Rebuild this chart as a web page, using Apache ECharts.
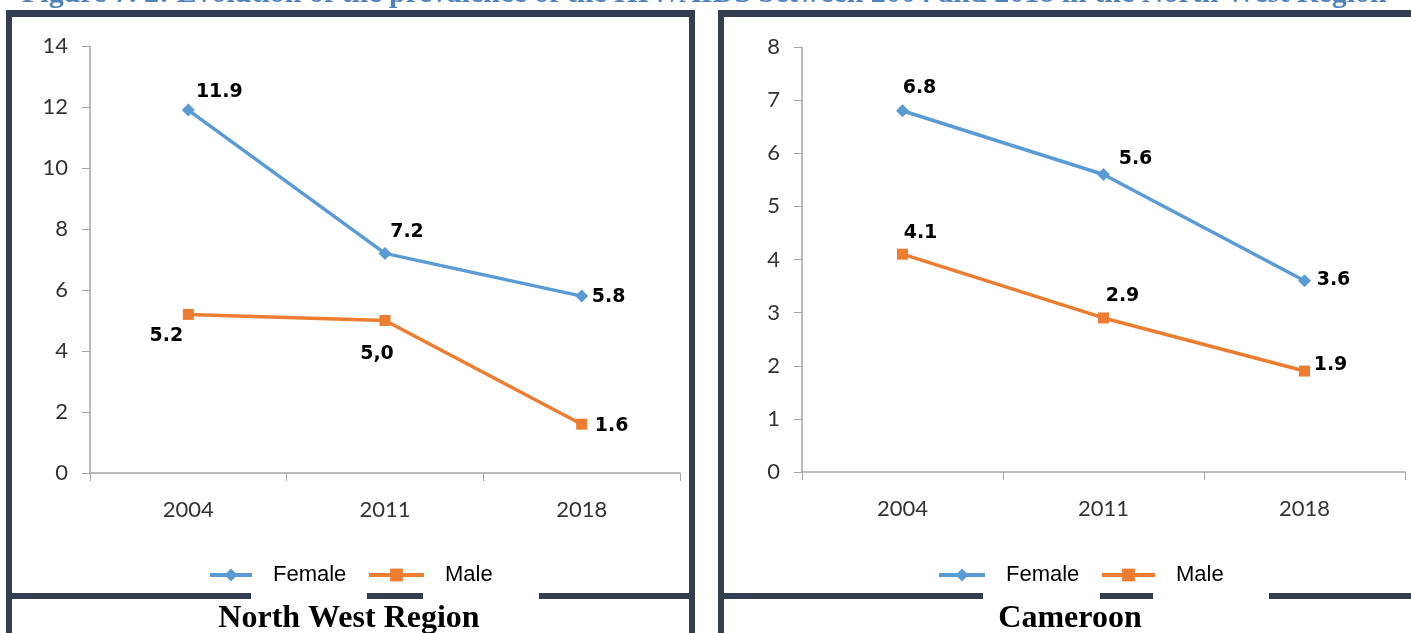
<!DOCTYPE html>
<html>
<head>
<meta charset="utf-8">
<script src="https://cdn.jsdelivr.net/npm/echarts@6/dist/echarts.min.js"></script>
<style>
  html, body { margin: 0; padding: 0; background: #fff; }
  #chart { width: 1411px; height: 633px; }
</style>
</head>
<body>
<div id="chart"></div>
<script>
// data
var years = ['2004', '2011', '2018'];
var nwFemale = [11.9, 7.2, 5.8];
var nwMale = [5.2, 5.0, 1.6];
var nwMaleText = ['5.2', '5,0', '1.6'];
var camFemale = [6.8, 5.6, 3.6];
var camMale = [4.1, 2.9, 1.9];

var BLUE = '#5b9bd5';
var ORANGE = '#ed7d31';
var FRAME = '#333f50';
var AXIS = '#a6a6a6';

// label offsets from the marker (px), one per point
var nwFemaleOff = [[31, -18], [22, -21], [27, 1]];
var nwMaleOff = [[-22, 22], [-8, 34], [30, 2]];
var camFemaleOff = [[17, -23], [32, -15], [29, -1]];
var camMaleOff = [[18, -21], [19, -22], [26, -6]];

function pts(values, offs, texts) {
  return values.map(function (v, i) {
    return {
      value: v,
      label: {
        position: 'inside',
        offset: offs[i],
        formatter: texts ? texts[i] : String(v.toFixed(1))
      }
    };
  });
}

function lineSeries(name, idx, values, offs, texts, color, symbol, size) {
  return {
    name: name,
    type: 'line',
    xAxisIndex: idx,
    yAxisIndex: idx,
    data: pts(values, offs, texts),
    symbol: symbol,
    symbolSize: size,
    lineStyle: { color: color, width: 3.5 },
    itemStyle: { color: color },
    label: {
      show: true,
      color: '#000',
      fontFamily: 'DejaVu Sans',
      fontWeight: 'bold',
      fontSize: 19
    },
    emphasis: { disabled: true },
    animation: false,
    z: 3
  };
}

function xAx(idx) {
  return {
    type: 'category',
    gridIndex: idx,
    data: years,
    axisLine: { lineStyle: { color: AXIS, width: 1.5 } },
    axisTick: { show: true, length: 8, lineStyle: { color: AXIS } },
    axisLabel: { color: '#333', fontSize: 22, fontFamily: 'Lato', margin: 26 }
  };
}

function yAx(idx, max, interval) {
  return {
    type: 'value',
    gridIndex: idx,
    min: 0,
    max: max,
    interval: interval,
    axisLine: { show: true, lineStyle: { color: AXIS, width: 1.5 } },
    axisTick: { show: true, length: 8, lineStyle: { color: AXIS } },
    splitLine: { show: false },
    axisLabel: { color: '#333', fontSize: 22, fontFamily: 'Lato', margin: 22 }
  };
}

function legendItem(name, left, width) {
  return {
    data: [name],
    left: left,
    top: 564,
    itemWidth: width,
    itemHeight: 16,
    selectedMode: false,
    padding: 0,
    lineStyle: { width: 4 },
    textStyle: {
      color: '#000',
      fontFamily: 'Liberation Sans',
      fontSize: 22,
      padding: [0, 0, 0, 16]
    }
  };
}

function bar(x, y, w, h) {
  return { type: 'rect', shape: { x: x, y: y, width: w, height: h }, style: { fill: FRAME }, silent: true };
}

var chart = echarts.init(document.getElementById('chart'));

var option = {
  backgroundColor: '#fff',
  grid: [
    { left: 90, right: 731, top: 46, bottom: 160 },
    { left: 802, right: 6, top: 47, bottom: 161 }
  ],
  xAxis: [xAx(0), xAx(1)],
  yAxis: [yAx(0, 14, 2), yAx(1, 8, 1)],
  legend: [
    legendItem('Female', 208, 42),
    legendItem('Male', 367, 55),
    legendItem('Female', 937, 46),
    legendItem('Male', 1100, 53)
  ],
  series: [
    lineSeries('Female', 0, nwFemale, nwFemaleOff, null, BLUE, 'diamond', 13),
    lineSeries('Male', 0, nwMale, nwMaleOff, nwMaleText, ORANGE, 'rect', 11),
    lineSeries('Female', 1, camFemale, camFemaleOff, null, BLUE, 'diamond', 13),
    lineSeries('Male', 1, camMale, camMaleOff, null, ORANGE, 'rect', 11)
  ],
  graphic: [
    // top title, mostly cut off above the page
    {
      type: 'text', left: 22, top: -21, silent: true,
      style: {
        text: 'Figure 7. 2: Evolution of the prevalence of the HIV/AIDS between 2004 and 2018 in the North West Region',
        fill: '#4f81bd', font: 'bold 30px "Liberation Serif"'
      }
    },
    // frame of the left panel
    bar(6, 10, 689, 7),
    bar(6, 10, 6, 623),
    bar(689, 10, 6, 623),
    bar(6, 593, 245, 6),
    bar(367, 593, 56, 6),
    bar(539, 593, 156, 6),
    // frame of the right panel
    bar(718, 10, 693, 7),
    bar(718, 10, 6, 623),
    bar(718, 593, 265, 6),
    bar(1100, 593, 53, 6),
    bar(1269, 593, 142, 6),
    // captions
    {
      type: 'text', x: 349, y: 619, silent: true,
      style: { text: 'North West Region', fill: '#000', font: 'bold 32px "Liberation Serif"', align: 'center', verticalAlign: 'middle' }
    },
    {
      type: 'text', x: 1070, y: 619, silent: true,
      style: { text: 'Cameroon', fill: '#000', font: 'bold 32px "Liberation Serif"', align: 'center', verticalAlign: 'middle' }
    }
  ]
};

chart.setOption(option);
</script>
</body>
</html>
